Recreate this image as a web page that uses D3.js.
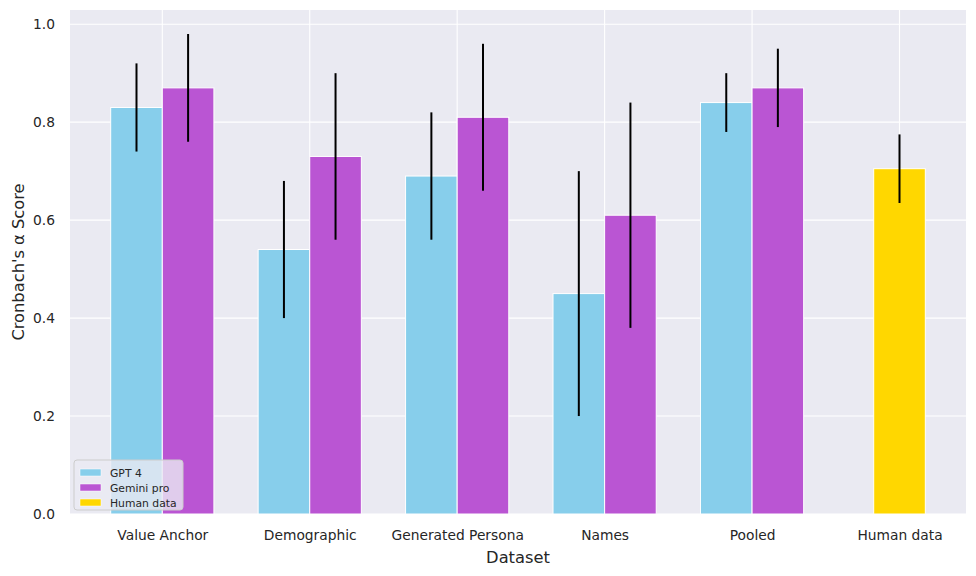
<!DOCTYPE html>
<meta charset="utf-8">
<head>
  <script src="https://d3js.org/d3.v7.min.js"></script>
  <style>
    body { margin: 0; background: #fff; }
    text { font-family: "DejaVu Sans", sans-serif; fill: #262626; }
  </style>
</head>
<body>
<div id="bar_chart"></div>
<script>

// data
var categories = ["Value Anchor", "Demographic", "Generated Persona", "Names", "Pooled", "Human data"];
var gpt4 = [0.83, 0.54, 0.69, 0.45, 0.84];
var gpt4Err = [0.09, 0.14, 0.13, 0.25, 0.06];
var gemini = [0.87, 0.73, 0.81, 0.61, 0.87];
var geminiErr = [0.11, 0.17, 0.15, 0.23, 0.08];
var human = [0.705];
var humanErr = [0.07];
var yTicks = [0.0, 0.2, 0.4, 0.6, 0.8, 1.0];
var seriesNames = ["GPT 4", "Gemini pro", "Human data"];
var colors = ["#87CEEB", "#BA55D3", "#FFD700"];

var barW = 0.35;

// dimensions and margins
var margin = {top: 10, right: 10, bottom: 62, left: 70},
    width = 976 - margin.left - margin.right,
    height = 576 - margin.top - margin.bottom;

var svg = d3.select("#bar_chart")
  .append("svg")
    .attr("width", 976)
    .attr("height", 576)
  .append("g")
    .attr("transform", "translate(" + margin.left + "," + margin.top + ")");

// background
svg.append("rect")
  .attr("width", width)
  .attr("height", height)
  .attr("fill", "#EAEAF2");

// scales (matplotlib-like 5% margins)
var x = d3.scaleLinear()
  .domain([-0.626, 5.451])
  .range([0, width]);

var y = d3.scaleLinear()
  .domain([0, 1.029])
  .range([height, 0]);

// grid
svg.append("g")
  .selectAll("line.h")
  .data(yTicks)
  .enter().append("line")
    .attr("x1", 0).attr("x2", width)
    .attr("y1", function(d) { return y(d); })
    .attr("y2", function(d) { return y(d); })
    .attr("stroke", "#fff")
    .attr("stroke-width", 1.1);

svg.append("g")
  .selectAll("line.v")
  .data(categories)
  .enter().append("line")
    .attr("x1", function(d, i) { return x(i); })
    .attr("x2", function(d, i) { return x(i); })
    .attr("y1", 0).attr("y2", height)
    .attr("stroke", "#fff")
    .attr("stroke-width", 1.1);

// axes (no tick marks, no domain line)
var xAxis = svg.append("g")
  .attr("transform", "translate(0," + height + ")")
  .call(d3.axisBottom(x)
    .tickValues(d3.range(categories.length))
    .tickFormat(function(i) { return categories[i]; })
    .tickSize(0)
    .tickPadding(16));
xAxis.select(".domain").remove();
xAxis.selectAll("text").style("font-size", "13.8px").attr("fill", "#262626");

var yAxis = svg.append("g")
  .call(d3.axisLeft(y)
    .tickValues(yTicks)
    .tickFormat(d3.format(".1f"))
    .tickSize(0)
    .tickPadding(15));
yAxis.select(".domain").remove();
yAxis.selectAll("text").style("font-size", "13.8px").attr("fill", "#262626");

// bars
function drawBars(values, errs, offset, color) {
  var g = svg.append("g");
  g.selectAll("rect")
    .data(values)
    .enter().append("rect")
      .attr("x", function(d, i) { return x(i + offset - barW / 2); })
      .attr("width", x(barW) - x(0))
      .attr("y", function(d) { return y(d); })
      .attr("height", function(d) { return y(0) - y(d); })
      .attr("fill", color)
      .attr("stroke", "#fff")
      .attr("stroke-width", 1);
  g.selectAll("line")
    .data(values)
    .enter().append("line")
      .attr("x1", function(d, i) { return x(i + offset); })
      .attr("x2", function(d, i) { return x(i + offset); })
      .attr("y1", function(d, i) { return y(d - errs[i]); })
      .attr("y2", function(d, i) { return y(d + errs[i]); })
      .attr("stroke", "#000")
      .attr("stroke-width", 2);
}

drawBars(gpt4, gpt4Err, -barW / 2, colors[0]);
drawBars(gemini, geminiErr, barW / 2, colors[1]);

// human bar sits on the last category
var hg = svg.append("g").attr("transform", "translate(" + (x(5) - x(0)) + ",0)");
hg.selectAll("rect")
  .data(human)
  .enter().append("rect")
    .attr("x", x(-barW / 2))
    .attr("width", x(barW) - x(0))
    .attr("y", function(d) { return y(d); })
    .attr("height", function(d) { return y(0) - y(d); })
    .attr("fill", colors[2])
    .attr("stroke", "#fff")
    .attr("stroke-width", 1);
hg.selectAll("line")
  .data(human)
  .enter().append("line")
    .attr("x1", x(0)).attr("x2", x(0))
    .attr("y1", function(d, i) { return y(d - humanErr[i]); })
    .attr("y2", function(d, i) { return y(d + humanErr[i]); })
    .attr("stroke", "#000")
    .attr("stroke-width", 2);

// axis labels
svg.append("text")
  .attr("x", width / 2)
  .attr("y", height + 49)
  .attr("text-anchor", "middle")
  .style("font-size", "16.3px")
  .text("Dataset");

svg.append("text")
  .attr("transform", "translate(" + (24 - margin.left) + "," + (height / 2) + ") rotate(-90)")
  .attr("text-anchor", "middle")
  .style("font-size", "16.3px")
  .text("Cronbach's \u03b1 Score");

// legend
var legend = svg.append("g").attr("transform", "translate(4," + (height - 54) + ")");
legend.append("rect")
  .attr("width", 109)
  .attr("height", 50)
  .attr("rx", 3)
  .attr("fill", "#EAEAF2")
  .attr("fill-opacity", 0.8)
  .attr("stroke", "#ccc")
  .attr("stroke-width", 1);
var item = legend.selectAll("g.item")
  .data(seriesNames)
  .enter().append("g")
    .attr("transform", function(d, i) { return "translate(6," + (9 + i * 15) + ")"; });
item.append("rect")
  .attr("width", 21)
  .attr("height", 7)
  .attr("fill", function(d, i) { return colors[i]; })
  .attr("stroke", "#fff")
  .attr("stroke-width", 0.5);
item.append("text")
  .attr("x", 30)
  .attr("y", 7.5)
  .style("font-size", "10.8px")
  .text(function(d) { return d; });

</script>
</body>
